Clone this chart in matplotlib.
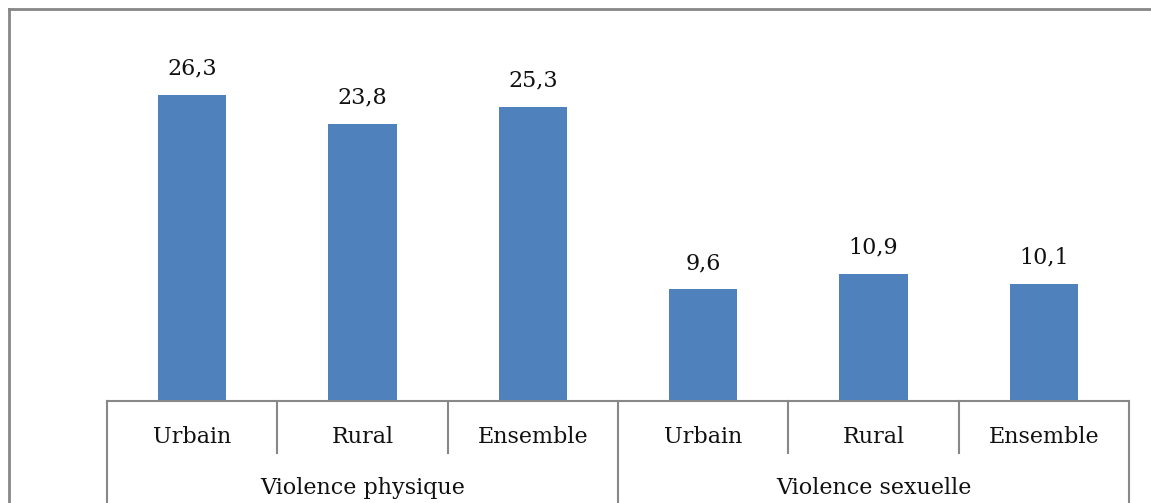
import numpy as np
import matplotlib.pyplot as plt
from matplotlib.lines import Line2D

categories = ["Urbain", "Rural", "Ensemble", "Urbain", "Rural", "Ensemble"]
groups = ["Violence physique", "Violence sexuelle"]
values = [26.3, 23.8, 25.3, 9.6, 10.9, 10.1]

W, H = 1151, 503
fig = plt.figure(figsize=(W / 100, H / 100), dpi=100)
ax = fig.add_axes([107 / W, (H - 401) / H, (1129 - 107) / W, 349 / H])

x = np.arange(len(values))
ax.bar(x, values, width=0.4, color="#4F81BD")
ax.set_xlim(-0.5, len(values) - 0.5)
ax.set_ylim(0, 30)
ax.axis("off")

font = "DejaVu Serif"
fs = 16
tc = "#111111"
for xi, v in zip(x, values):
    ax.annotate(f"{v:.1f}".replace(".", ","), (xi, v), xytext=(0, 11),
                textcoords="offset points", ha="center", va="bottom",
                fontsize=fs, family=font, color=tc)

# grouped axis table
tr = ax.get_xaxis_transform()
lc = "#888888"
ax.plot([-0.5, 5.5], [0, 0], color=lc, lw=1.5, transform=tr, clip_on=False)
for sx in [-0.5, 2.5, 5.5]:
    ax.plot([sx, sx], [0, -0.4], color=lc, lw=1.5, transform=tr, clip_on=False)
for sx in [0.5, 1.5, 3.5, 4.5]:
    ax.plot([sx, sx], [0, -0.149], color=lc, lw=1.5, transform=tr, clip_on=False)

for xi, c in zip(x, categories):
    ax.text(xi, -0.103, c, transform=tr, ha="center", va="center",
            fontsize=fs, family=font, color=tc)
for gi, g in enumerate(groups):
    ax.text(gi * 3 + 1, -0.248, g, transform=tr, ha="center", va="center",
            fontsize=fs, family=font, color=tc)

# chart border (top and left visible)
bc = "#868686"
fig.add_artist(Line2D([9 / W, 1.01], [1 - 9 / H, 1 - 9 / H], color=bc, lw=2, transform=fig.transFigure))
fig.add_artist(Line2D([9 / W, 9 / W], [1 - 9 / H, -0.01], color=bc, lw=2, transform=fig.transFigure))

fig.savefig("out.png", dpi=100)
